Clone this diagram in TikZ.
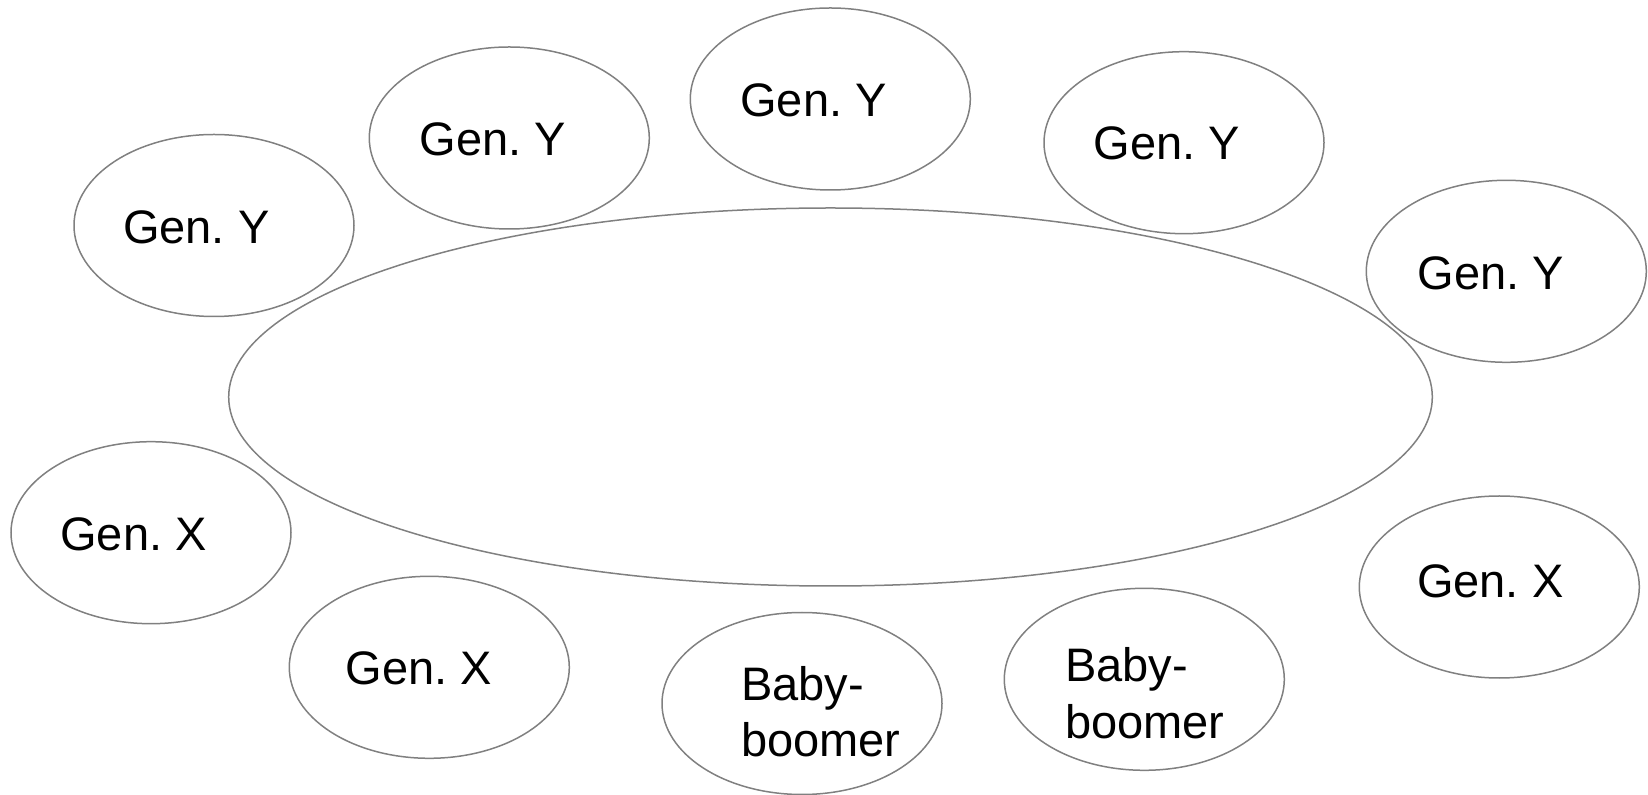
\documentclass[tikz,border=0pt]{standalone}
\usepackage{fontspec}
\setmainfont{Liberation Sans}
\usetikzlibrary{shapes.geometric}
\frenchspacing
\definecolor{rim}{RGB}{128,128,128}
\tikzset{
  bubble/.style={ellipse, draw=rim, line width=0.75pt, inner sep=0pt,
    minimum width=140pt, minimum height=91pt},
  hub/.style={ellipse, draw=rim, line width=0.75pt, inner sep=0pt,
    minimum width=601.8pt, minimum height=189pt},
  label/.style={anchor=base west, inner sep=0pt,
    font=\fontsize{23.5pt}{28.35pt}\selectfont\frenchspacing}
}
\newcommand{\twolines}[2]{\vtop{\baselineskip=28.35pt\hbox{#1}\hbox{#2}}}
\begin{document}
\begin{tikzpicture}[x=0.5pt, y=-0.5pt]
\useasboundingbox (0,0) rectangle (1648,795);

% central ellipse
\node[hub] (hub) at (830.5,397) {};

% surrounding generations
\node[bubble] (y1) at (214,225.5) {};
\node[bubble] (y2) at (509.3,138) {};
\node[bubble] (y3) at (830.3,99) {};
\node[bubble] (y4) at (1184,142.7) {};
\node[bubble] (y5) at (1506.3,271.3) {};
\node[bubble] (x1) at (151,532.7) {};
\node[bubble] (x2) at (429.3,667.3) {};
\node[bubble] (b1) at (802,703.5) {};
\node[bubble] (b2) at (1144.3,679.3) {};
\node[bubble] (x3) at (1499.3,587) {};

% labels
\node[label] (ty1) at (122.7,244) {Gen. Y};
\node[label] (ty2) at (419.3,156) {Gen. Y};
\node[label] (ty3) at (740,116.7) {Gen. Y};
\node[label] (ty4) at (1093.3,159.7) {Gen. Y};
\node[label] (ty5) at (1417.3,290) {Gen. Y};
\node[label] (tx1) at (60,550.3) {Gen. X};
\node[label] (tx2) at (345.3,684.7) {Gen. X};
\node[label] (tx3) at (1416.7,597.3) {Gen. X};
\node[label] (tb1) at (740.7,700) {\twolines{Baby-}{boomer}};
\node[label] (tb2) at (1064.7,682) {\twolines{Baby-}{boomer}};
\end{tikzpicture}
\end{document}
